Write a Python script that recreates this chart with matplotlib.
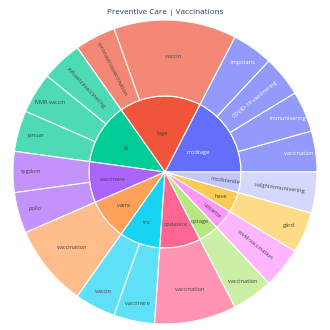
import matplotlib
matplotlib.use("Agg")
import matplotlib.pyplot as plt
import numpy as np

title = "Preventive Care | Vaccinations"

parents = ['modtage', 'tage', 'få', 'vaccinere', 'være', 'tro', 'opdatere',
           'optage', 'udsætte', 'have', 'modstande']
parent_values = [4, 4, 3, 2, 2, 2, 2, 1, 1, 1, 1]

child_parents = ['modtage', 'modtage', 'modtage', 'modtage',
                 'tage', 'tage',
                 'få', 'få', 'få',
                 'vaccinere', 'vaccinere',
                 'være',
                 'tro', 'tro',
                 'opdatere',
                 'optage',
                 'udsætte',
                 'have',
                 'modstande']
child_labels = ['vaccination', 'immunisering', 'COVID-19-vaccinering', 'impotans',
                'vaccin', 'coronavirusvaccination',
                'influenzavaccinering', 'MMR-vaccin', 'januar',
                'sygdom', 'polio',
                'vaccination',
                'vaccin', 'vaccinere',
                'vaccination',
                'vaccination',
                'covid-vaccination',
                'gård',
                'valghimmunisering']
child_values = [1, 1, 1, 1,
                3, 1,
                1, 1, 1,
                1, 1,
                2,
                1, 1,
                2,
                1,
                1,
                1,
                1]

# styles
parent_colors = ['#636EFA', '#EF553B', '#00CC96', '#AB63FA', '#FFA15A', '#19D3F3',
                 '#FF6692', '#B6E880', '#FF97FF', '#FECB52', '#C3C7FB']
parent_orient = ['h', 'h', 'h', 'h', 'h', 'h', 'h', 'h', 'r', 'h', 'r']
child_orient = ['h', 'h', 'r', 'h',
                'h', 'r',
                'r', 'h', 'h',
                'h', 'h',
                'h',
                'h', 'h',
                'h',
                'h',
                'r',
                'h',
                'r']
dark_parents = {'modtage'}
FONT = 'Open Sans'
FS = 4.1


def lighten(hexc, a=0.7):
    c = np.array(matplotlib.colors.to_rgb(hexc))
    return tuple(a * c + (1 - a) * 1.0)


fig = plt.figure(figsize=(3.3, 3.3), dpi=100)
ax = fig.add_axes([13 / 330, 6 / 330, 304 / 330, 304 / 330])

pcol = dict(zip(parents, parent_colors))
child_colors = [lighten(pcol[p]) for p in child_parents]

ax.pie(parent_values, radius=0.5, startangle=0, counterclock=True,
       colors=parent_colors,
       wedgeprops=dict(width=0.5, edgecolor='white', linewidth=0.8))
ax.pie(child_values, radius=1.0, startangle=0, counterclock=True,
       colors=child_colors,
       wedgeprops=dict(width=0.5, edgecolor='white', linewidth=0.8))

ax.set_xlim(-1, 1)
ax.set_ylim(-1, 1)
ax.set_aspect('equal')
ax.axis('off')


def rot_for(mid):
    m = (mid + 180) % 360 - 180
    if m > 90:
        m -= 180
    elif m < -90:
        m += 180
    return m


total = sum(parent_values)
cum = 0.0
for lab, v, o in zip(parents, parent_values, parent_orient):
    span = 360.0 * v / total
    mid = cum + span / 2
    cum += span
    r = 0.5 * (0.9 - 0.4 * span / 63.0)
    x, y = r * np.cos(np.radians(mid)), r * np.sin(np.radians(mid))
    rot = rot_for(mid) if o == 'r' else 0
    col = 'white' if lab in dark_parents else '#444444'
    ax.text(x, y, lab, ha='center', va='center', rotation=rot,
            rotation_mode='anchor', fontsize=FS, family=FONT, color=col)

total_c = sum(child_values)
cum = 0.0
for lab, p, v, o in zip(child_labels, child_parents, child_values, child_orient):
    span = 360.0 * v / total_c
    mid = cum + span / 2
    cum += span
    if o == 'h' and v == 1:
        r = 0.885
    elif o == 'h' and v == 2:
        r = 0.79
    else:
        r = 0.76
    x, y = r * np.cos(np.radians(mid)), r * np.sin(np.radians(mid))
    rot = rot_for(mid) if o == 'r' else 0
    col = 'white' if p in dark_parents else '#444444'
    ax.text(x, y, lab, ha='center', va='center', rotation=rot,
            rotation_mode='anchor', fontsize=FS, family=FONT, color=col)

fig.text(0.5, 1 - 12.5 / 330, title, ha='center', va='center',
         fontsize=5.9, family=FONT, color='#2a3f5f')

fig.savefig('out.png', dpi=100)
